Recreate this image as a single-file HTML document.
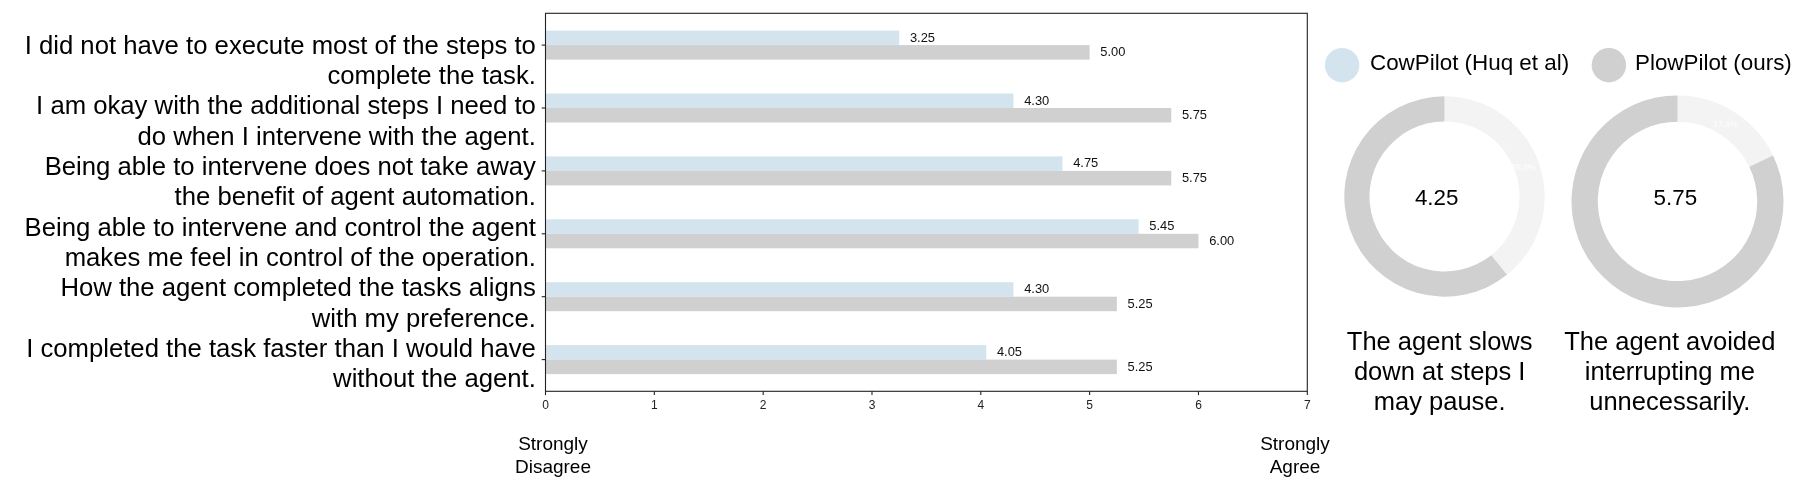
<!DOCTYPE html>
<html><head><meta charset="utf-8"><style>
html,body{margin:0;padding:0;background:#fff;width:1803px;height:488px;overflow:hidden}
svg{display:block;will-change:transform}
text{font-family:"Liberation Sans",sans-serif;fill:#000}
.ax{stroke:#222;stroke-width:1.1;fill:none}
.v{font-size:12.9px;fill:#111}
.tk{font-size:12px;text-anchor:middle;fill:#222}
.lb{font-size:25.7px;text-anchor:end}
.st{font-size:19px;text-anchor:middle}
.lg{font-size:22.4px}
.dv{font-size:22.4px;text-anchor:middle}
.pc{font-size:9px;font-weight:bold;text-anchor:middle;fill:#fbfbfb}
.cp{font-size:25.5px;text-anchor:middle}
</style></head><body>
<svg width="1803" height="488" viewBox="0 0 1803 488">
<rect width="1803" height="488" fill="#fff"/>
<rect x="545.5" y="30.60" width="353.69" height="14.5" fill="#d4e4ef"/>
<rect x="545.5" y="45.10" width="544.14" height="14.5" fill="#d0d0d0"/>
<text x="909.89" y="41.65" class="v">3.25</text>
<text x="1100.34" y="56.15" class="v">5.00</text>
<line x1="541.7" y1="45.10" x2="545.5" y2="45.10" class="ax"/>
<rect x="545.5" y="93.50" width="467.96" height="14.5" fill="#d4e4ef"/>
<rect x="545.5" y="108.00" width="625.76" height="14.5" fill="#d0d0d0"/>
<text x="1024.16" y="104.55" class="v">4.30</text>
<text x="1181.96" y="119.05" class="v">5.75</text>
<line x1="541.7" y1="108.00" x2="545.5" y2="108.00" class="ax"/>
<rect x="545.5" y="156.40" width="516.94" height="14.5" fill="#d4e4ef"/>
<rect x="545.5" y="170.90" width="625.76" height="14.5" fill="#d0d0d0"/>
<text x="1073.14" y="167.45" class="v">4.75</text>
<text x="1181.96" y="181.95" class="v">5.75</text>
<line x1="541.7" y1="170.90" x2="545.5" y2="170.90" class="ax"/>
<rect x="545.5" y="219.30" width="593.12" height="14.5" fill="#d4e4ef"/>
<rect x="545.5" y="233.80" width="652.97" height="14.5" fill="#d0d0d0"/>
<text x="1149.32" y="230.35" class="v">5.45</text>
<text x="1209.17" y="244.85" class="v">6.00</text>
<line x1="541.7" y1="233.80" x2="545.5" y2="233.80" class="ax"/>
<rect x="545.5" y="282.20" width="467.96" height="14.5" fill="#d4e4ef"/>
<rect x="545.5" y="296.70" width="571.35" height="14.5" fill="#d0d0d0"/>
<text x="1024.16" y="293.25" class="v">4.30</text>
<text x="1127.55" y="307.75" class="v">5.25</text>
<line x1="541.7" y1="296.70" x2="545.5" y2="296.70" class="ax"/>
<rect x="545.5" y="345.10" width="440.76" height="14.5" fill="#d4e4ef"/>
<rect x="545.5" y="359.60" width="571.35" height="14.5" fill="#d0d0d0"/>
<text x="996.96" y="356.15" class="v">4.05</text>
<text x="1127.55" y="370.65" class="v">5.25</text>
<line x1="541.7" y1="359.60" x2="545.5" y2="359.60" class="ax"/>
<rect x="545.5" y="13.3" width="761.80" height="378.00" fill="none" class="ax"/>
<line x1="545.50" y1="391.3" x2="545.50" y2="395.1" class="ax"/>
<text x="545.50" y="408.6" class="tk">0</text>
<line x1="654.33" y1="391.3" x2="654.33" y2="395.1" class="ax"/>
<text x="654.33" y="408.6" class="tk">1</text>
<line x1="763.16" y1="391.3" x2="763.16" y2="395.1" class="ax"/>
<text x="763.16" y="408.6" class="tk">2</text>
<line x1="871.99" y1="391.3" x2="871.99" y2="395.1" class="ax"/>
<text x="871.99" y="408.6" class="tk">3</text>
<line x1="980.81" y1="391.3" x2="980.81" y2="395.1" class="ax"/>
<text x="980.81" y="408.6" class="tk">4</text>
<line x1="1089.64" y1="391.3" x2="1089.64" y2="395.1" class="ax"/>
<text x="1089.64" y="408.6" class="tk">5</text>
<line x1="1198.47" y1="391.3" x2="1198.47" y2="395.1" class="ax"/>
<text x="1198.47" y="408.6" class="tk">6</text>
<line x1="1307.30" y1="391.3" x2="1307.30" y2="395.1" class="ax"/>
<text x="1307.30" y="408.6" class="tk">7</text>
<text x="535.9" y="53.60" class="lb">I did not have to execute most of the steps to</text>
<text x="535.9" y="83.93" class="lb">complete the task.</text>
<text x="535.9" y="114.26" class="lb">I am okay with the additional steps I need to</text>
<text x="535.9" y="144.59" class="lb">do when I intervene with the agent.</text>
<text x="535.9" y="174.92" class="lb">Being able to intervene does not take away</text>
<text x="535.9" y="205.25" class="lb">the benefit of agent automation.</text>
<text x="535.9" y="235.58" class="lb">Being able to intervene and control the agent</text>
<text x="535.9" y="265.91" class="lb">makes me feel in control of the operation.</text>
<text x="535.9" y="296.24" class="lb">How the agent completed the tasks aligns</text>
<text x="535.9" y="326.57" class="lb">with my preference.</text>
<text x="535.9" y="356.90" class="lb">I completed the task faster than I would have</text>
<text x="535.9" y="387.23" class="lb">without the agent.</text>
<text x="553" y="450" class="st">Strongly</text><text x="553" y="472.7" class="st">Disagree</text>
<text x="1295" y="450" class="st">Strongly</text><text x="1295" y="472.7" class="st">Agree</text>
<circle cx="1342.1" cy="65.2" r="17.2" fill="#d4e4ef"/>
<text x="1370" y="70" class="lg">CowPilot (Huq et al)</text>
<circle cx="1608.9" cy="65.2" r="17.2" fill="#d0d0d0"/>
<text x="1635" y="70" class="lg">PlowPilot (ours)</text>
<path d="M1444.500,96.300 A100.2,100.2 0 0 1 1506.974,274.840 L1491.262,255.137 A75.0,75.0 0 0 0 1444.500,121.500 Z" fill="#f3f3f3"/>
<path d="M1506.974,274.840 A100.2,100.2 0 1 1 1444.500,96.300 L1444.500,121.500 A75.0,75.0 0 1 0 1491.262,255.137 Z" fill="#d0d0d0"/>
<text x="1436.7" y="204.7" class="dv">4.25</text>
<text x="1523" y="170.2" class="pc">39.3%</text>
<path d="M1677.500,95.400 A106.0,106.0 0 0 1 1773.003,155.408 L1749.307,166.819 A79.7,79.7 0 0 0 1677.500,121.700 Z" fill="#f3f3f3"/>
<path d="M1773.003,155.408 A106.0,106.0 0 1 1 1677.500,95.400 L1677.500,121.700 A79.7,79.7 0 1 0 1749.307,166.819 Z" fill="#d0d0d0"/>
<text x="1675.3" y="204.7" class="dv">5.75</text>
<text x="1725.5" y="127" class="pc">17.9%</text>
<text x="1439.7" y="349.70" class="cp">The agent slows</text>
<text x="1439.7" y="379.90" class="cp">down at steps I</text>
<text x="1439.7" y="410.10" class="cp">may pause.</text>
<text x="1669.8" y="349.70" class="cp">The agent avoided</text>
<text x="1669.8" y="379.90" class="cp">interrupting me</text>
<text x="1669.8" y="410.10" class="cp">unnecessarily.</text>
</svg>
</body></html>
